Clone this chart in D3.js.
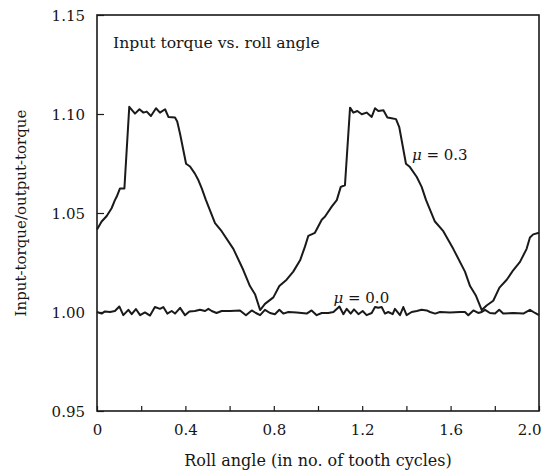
<!DOCTYPE html>
<html>
<head>
<meta charset="utf-8">
<script src="https://cdn.jsdelivr.net/npm/d3@7/dist/d3.min.js"></script>
<style>
body{margin:0;background:#fff;}
text{font-family:"DejaVu Serif",serif;fill:#161616;}
</style>
</head>
<body>
<div id="svg-container"></div>
<script>
//mu=0.3 的曲線 (roll angle, torque ratio)
var mu3X=[0,0.021,0.044,0.066,0.081,0.089,0.104,0.124,0.146,0.172,0.192,0.210,0.225,0.244,0.267,0.285,0.308,0.323,0.353,0.363,0.376,0.403,0.421,0.443,0.459,0.474,0.493,0.534,0.564,0.617,0.662,0.692,0.715,0.738,0.760,0.798,0.825,0.858,0.888,0.919,0.941,0.956,0.986,1.017,1.032,1.062,1.085,1.103,1.122,1.145,1.160,1.178,1.198,1.220,1.243,1.258,1.273,1.296,1.314,1.333,1.353,1.368,1.398,1.416,1.447,1.469,1.489,1.529,1.567,1.612,1.665,1.688,1.715,1.741,1.763,1.793,1.821,1.854,1.884,1.914,1.944,1.959,1.974,2.0];
var mu3Y=[1.0417,1.0457,1.0485,1.0524,1.0565,1.0582,1.0624,1.0624,1.1036,1.1002,1.1024,1.1007,1.1012,1.0990,1.1029,1.1007,1.1024,1.0985,1.0982,1.0962,1.0899,1.0749,1.0735,1.0699,1.0665,1.0624,1.0565,1.0449,1.0408,1.0319,1.0212,1.0131,1.0090,1.0010,1.0041,1.0074,1.0131,1.0163,1.0204,1.0261,1.0330,1.0384,1.0400,1.0466,1.0482,1.0532,1.0565,1.0632,1.0640,1.1032,1.1007,1.1015,1.0999,1.1007,1.0985,1.1029,1.1015,1.1019,1.0982,1.0979,1.0974,1.0932,1.0749,1.0732,1.0682,1.0632,1.0565,1.0457,1.0408,1.0319,1.0204,1.0131,1.0082,1.0010,1.0033,1.0057,1.0123,1.0163,1.0212,1.0253,1.0319,1.0376,1.0392,1.0400];

//mu=0.0 的曲線
var mu0X=[0,0.021,0.036,0.059,0.081,0.101,0.119,0.142,0.157,0.176,0.195,0.217,0.240,0.262,0.285,0.300,0.318,0.338,0.353,0.376,0.398,0.418,0.443,0.466,0.489,0.504,0.519,0.541,0.564,0.602,0.647,0.674,0.700,0.719,0.738,0.760,0.783,0.805,0.825,0.843,0.866,0.903,0.949,0.971,0.994,1.017,1.047,1.070,1.097,1.115,1.130,1.148,1.163,1.183,1.202,1.220,1.243,1.258,1.273,1.288,1.303,1.318,1.338,1.348,1.371,1.386,1.401,1.424,1.447,1.469,1.492,1.507,1.530,1.552,1.597,1.643,1.665,1.680,1.703,1.725,1.741,1.756,1.778,1.801,1.820,1.838,1.884,1.929,1.959,1.982,2.0];
var mu0Y=[1.0000,0.9992,1.0003,1.0000,1.0005,1.0028,0.9984,1.0011,0.9989,1.0015,0.9984,0.9998,0.9982,1.0025,1.0016,1.0025,0.9992,1.0005,0.9992,1.0021,0.9984,1.0003,1.0005,1.0011,1.0005,1.0016,1.0005,0.9995,1.0005,1.0005,1.0008,0.9984,1.0008,0.9995,0.9984,1.0011,0.9995,0.9989,1.0011,0.9992,1.0000,0.9998,0.9992,1.0008,0.9984,0.9995,0.9995,1.0000,1.0028,0.9989,1.0016,0.9992,1.0013,0.9989,1.0005,0.9984,0.9995,1.0025,1.0021,1.0025,0.9992,1.0000,0.9989,1.0016,0.9984,1.0025,0.9984,1.0000,1.0005,1.0011,1.0008,1.0000,0.9992,1.0000,0.9998,1.0000,1.0000,0.9984,1.0008,0.9995,1.0000,1.0011,0.9995,0.9992,1.0011,0.9992,0.9995,0.9992,1.0011,0.9995,0.9984];

//刻度
var xTicks=[0,0.2,0.4,0.6,0.8,1.0,1.2,1.4,1.6,1.8,2.0];
var xLabels=[0,0.4,0.8,1.2,1.6,2.0];
var yTicks=[0.95,1.00,1.05,1.10,1.15];

//設定全域變數
width=556;
height=474;
margin={left:97,right:17,top:15,bottom:63};
inkColor="#1a1a1a";
fontSize=15;

pairs=function(xs,ys){
	var arr=[];
	for (var i = 0; i < xs.length; i++) {
		arr.push([xs[i],ys[i]]);
	};
	return arr;
}

main=function(){
	var svg=d3.select('#svg-container').append('svg')
		.attr('width',width).attr('height',height);

	var x=d3.scaleLinear().domain([0,2]).range([margin.left,width-margin.right]);
	var y=d3.scaleLinear().domain([0.95,1.15]).range([height-margin.bottom,margin.top]);

	//x軸 (刻度向內)
	var gx=svg.append('g')
		.attr('transform','translate(0,'+(height-margin.bottom)+')')
		.call(d3.axisBottom(x).tickValues(xTicks).tickSizeInner(-5).tickSizeOuter(0).tickPadding(13)
			.tickFormat(function(d){
				if(xLabels.indexOf(d)<0)return "";
				return d==0?"0":d3.format(".1f")(d);
			}));
	gx.select('.domain').remove();
	gx.selectAll('text').attr('font-size',fontSize).attr('font-family',null);
	//2.0 靠右對齊
	gx.selectAll('.tick text').filter(function(d){return d==2}).attr('text-anchor','end').attr('dx','2');

	//y軸
	var gy=svg.append('g')
		.attr('transform','translate('+margin.left+',0)')
		.call(d3.axisLeft(y).tickValues(yTicks).tickSizeInner(-7).tickSizeOuter(0).tickPadding(12)
			.tickFormat(d3.format(".2f")));
	gy.select('.domain').remove();
	gy.selectAll('text').attr('font-size',fontSize).attr('font-family',null).attr('dy','0.36em');

	svg.selectAll('.tick line').attr('stroke',inkColor).attr('stroke-width',1.2);

	//外框
	svg.append('rect')
		.attr('x',x(0)).attr('y',y(1.15))
		.attr('width',x(2)-x(0)).attr('height',y(0.95)-y(1.15))
		.attr('fill','none').attr('stroke',inkColor).attr('stroke-width',1.6);

	var line=d3.line().x(function(d){return x(d[0])}).y(function(d){return y(d[1])});

	svg.append('path').datum(pairs(mu3X,mu3Y))
		.attr('d',line).attr('fill','none').attr('stroke',inkColor)
		.attr('stroke-width',2).attr('stroke-linejoin','round');
	svg.append('path').datum(pairs(mu0X,mu0Y))
		.attr('d',line).attr('fill','none').attr('stroke',inkColor)
		.attr('stroke-width',2).attr('stroke-linejoin','round');

	//曲線標籤
	var lab3=svg.append('text').attr('x',x(1.425)).attr('y',y(1.077)).attr('font-size',fontSize);
	lab3.append('tspan').attr('font-style','italic').text('μ');
	lab3.append('tspan').text(' = 0.3');
	var lab0=svg.append('text').attr('x',x(1.07)).attr('y',y(1.0046)).attr('font-size',fontSize);
	lab0.append('tspan').attr('font-style','italic').text('μ');
	lab0.append('tspan').text(' = 0.0');

	//標題
	svg.append('text').attr('x',margin.left+16).attr('y',margin.top+33)
		.attr('font-size',15.6).text('Input torque vs. roll angle');

	//軸標題
	svg.append('text').attr('x',(x(0)+x(2))/2).attr('y',height-8)
		.attr('text-anchor','middle').attr('font-size',16)
		.text('Roll angle (in no. of tooth cycles)');
	svg.append('text')
		.attr('transform','translate(26,'+((y(0.95)+y(1.15))/2)+')rotate(-90)')
		.attr('text-anchor','middle').attr('font-size',fontSize)
		.text('Input-torque/output-torque');
}

main();
</script>
</body>
</html>
